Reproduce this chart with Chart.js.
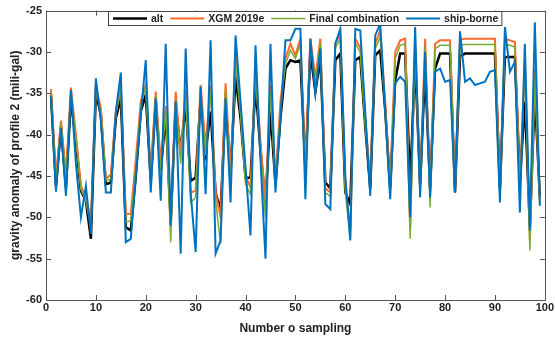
<!DOCTYPE html>
<html>
<head>
<meta charset="utf-8">
<script src="https://cdn.jsdelivr.net/npm/chart.js@4"></script>
<style>
  html, body { margin: 0; padding: 0; background: #fff; }
  #wrap { width: 555px; height: 343px; }
</style>
</head>
<body>
<div id="wrap"><canvas id="chart"></canvas></div>
<script>
// Sample numbers (x)
const sampleNo = [1,2,3,4,5,6,7,8,9,10,11,12,13,14,15,16,17,18,19,20,
  21,22,23,24,25,26,27,28,29,30,31,32,33,34,35,36,37,38,39,40,
  41,42,43,44,45,46,47,48,49,50,51,52,53,54,55,56,57,58,59,60,
  61,62,63,64,65,66,67,68,69,70,71,72,73,74,75,76,77,78,79,80,
  81,82,83,84,85,86,87,88,89,90,91,92,93,94,95,96,97,98,99];

// Series values (mGal)
const alt = [-35.2,-46.2,-39.0,-46.4,-35.6,-41.0,-46.8,-48.0,-52.6,-35.0,
  -37.6,-46.0,-45.8,-38.0,-35.6,-51.2,-51.6,-45.0,-37.2,-35.2,
  -45.5,-36.0,-44.5,-37.5,-50.5,-36.4,-42.0,-36.5,-45.6,-45.2,
  -35.6,-42.0,-37.2,-47.0,-49.2,-36.2,-44.5,-33.0,-38.0,-45.2,
  -45.2,-34.0,-42.0,-48.4,-37.2,-46.0,-38.0,-32.0,-31.0,-31.2,
  -31.0,-44.0,-30.0,-34.8,-30.8,-45.8,-46.5,-31.0,-30.2,-47.0,
  -48.4,-31.0,-30.6,-39.0,-46.5,-30.4,-29.8,-37.0,-46.4,-33.5,
  -30.2,-30.2,-46.0,-31.0,-46.0,-32.0,-46.5,-32.0,-30.2,-30.2,
  -30.2,-47.0,-30.5,-30.2,-30.2,-30.2,-30.2,-30.2,-30.2,-30.2,
  -46.5,-30.6,-30.6,-30.6,-45.5,-36.0,-51.2,-35.0,-47.5];

const xgm = [-34.5,-45.2,-38.3,-44.8,-34.3,-40.0,-46.2,-47.6,-50.4,-34.2,
  -36.8,-45.4,-44.8,-37.2,-34.0,-49.6,-49.6,-43.0,-36.0,-34.0,
  -44.5,-34.8,-43.5,-36.5,-51.0,-34.8,-42.5,-34.6,-47.0,-46.8,
  -34.0,-41.5,-34.0,-47.0,-50.0,-33.8,-44.8,-30.4,-37.0,-45.0,
  -46.4,-32.0,-41.0,-48.0,-34.0,-45.6,-36.0,-30.8,-29.0,-30.4,
  -28.4,-44.0,-28.4,-33.2,-28.4,-46.5,-47.0,-29.0,-27.8,-46.0,
  -51.6,-28.4,-29.5,-38.0,-45.5,-29.0,-27.4,-36.0,-46.4,-30.0,
  -28.6,-28.4,-51.5,-28.5,-46.5,-28.4,-47.0,-29.0,-28.6,-28.6,
  -28.6,-46.5,-28.5,-28.4,-28.4,-28.4,-28.4,-28.4,-28.4,-28.4,
  -46.5,-28.4,-28.6,-28.8,-46.0,-31.0,-52.8,-32.0,-48.0];

const finalComb = [-34.8,-45.8,-38.6,-45.6,-34.8,-40.5,-46.6,-48.0,-51.2,-34.6,
  -37.2,-45.6,-45.4,-37.6,-34.6,-50.6,-50.4,-44.0,-36.4,-34.2,
  -46.0,-35.2,-44.5,-37.0,-53.0,-35.6,-43.5,-35.2,-48.2,-47.6,
  -34.6,-42.5,-34.6,-48.0,-53.2,-34.6,-46.4,-31.2,-37.5,-46.0,
  -47.2,-32.8,-42.0,-50.0,-34.8,-46.4,-37.0,-31.5,-29.8,-30.8,
  -29.0,-46.5,-29.0,-33.8,-29.0,-47.0,-47.5,-29.5,-28.4,-47.0,
  -52.6,-29.0,-30.0,-39.0,-46.0,-29.6,-28.2,-37.0,-47.0,-30.8,
  -29.2,-29.0,-52.6,-29.5,-47.0,-29.2,-48.8,-29.6,-29.2,-29.2,
  -29.2,-46.8,-29.2,-29.1,-29.1,-29.1,-29.1,-29.1,-29.1,-29.1,
  -47.5,-29.1,-29.2,-29.4,-47.5,-31.5,-54.0,-33.0,-48.6];

const shipBorne = [-35.4,-46.9,-39.2,-47.4,-34.6,-43.5,-50.0,-46.2,-52.0,-33.2,
  -38.4,-47.0,-47.0,-37.2,-32.5,-53.0,-52.6,-45.0,-37.6,-31.0,
  -47.0,-35.6,-48.0,-29.0,-51.0,-36.0,-54.4,-29.6,-47.0,-54.2,
  -34.2,-47.2,-28.6,-54.4,-52.8,-35.6,-48.2,-28.0,-36.0,-44.0,
  -52.2,-29.2,-43.0,-55.0,-29.0,-47.0,-38.0,-28.6,-28.6,-27.2,
  -27.2,-47.8,-28.4,-35.0,-29.6,-48.4,-49.0,-29.0,-27.2,-45.0,
  -52.8,-27.2,-27.4,-37.2,-47.4,-28.0,-26.6,-37.0,-47.8,-33.8,
  -33.0,-33.6,-50.0,-27.0,-47.6,-30.0,-47.6,-32.4,-32.0,-33.6,
  -33.4,-47.0,-27.5,-33.6,-33.2,-34.0,-33.8,-33.6,-32.4,-32.2,
  -48.2,-27.0,-32.4,-31.2,-49.4,-29.0,-51.6,-26.4,-48.6];

// Axis ticks
const xTicks = [0,10,20,30,40,50,60,70,80,90,100];
const yTicks = [-60,-55,-50,-45,-40,-35,-30,-25];

const toPoints = vals => vals.map((v, i) => ({ x: sampleNo[i], y: v }));

const FONT = 'Arial, "Liberation Sans", sans-serif';

// Box + inward ticks like MATLAB
const boxPlugin = {
  id: 'boxTicks',
  afterDraw(chart) {
    const { ctx, chartArea: a, scales } = chart;
    ctx.save();
    ctx.strokeStyle = '#555';
    ctx.lineWidth = 1;
    ctx.strokeRect(Math.round(a.left) + 0.5, Math.round(a.top) + 0.5,
      Math.round(a.right - a.left), Math.round(a.bottom - a.top));
    ctx.beginPath();
    xTicks.forEach(t => {
      const px = Math.round(scales.x.getPixelForValue(t)) + 0.5;
      ctx.moveTo(px, a.bottom); ctx.lineTo(px, a.bottom - 5);
      ctx.moveTo(px, a.top);    ctx.lineTo(px, a.top + 5);
    });
    yTicks.forEach(t => {
      const py = Math.round(scales.y.getPixelForValue(t)) + 0.5;
      ctx.moveTo(a.left, py);  ctx.lineTo(a.left + 5, py);
      ctx.moveTo(a.right, py); ctx.lineTo(a.right - 5, py);
    });
    ctx.stroke();
    ctx.restore();
  }
};

// Legend box inside the plot, drawn by hand
const legendPlugin = {
  id: 'boxLegend',
  afterDraw(chart) {
    const { ctx } = chart;
    const items = chart.data.datasets;
    const left = 108, top = 11, h = 14, lineLen = 34, gap = 7;
    ctx.save();
    ctx.font = 'bold 10.5px ' + FONT;
    let x = left + 5;
    const pos = [];
    items.forEach(ds => {
      pos.push(x);
      x += lineLen + 4 + ctx.measureText(ds.label).width + gap;
    });
    const right = x - gap + 3;
    ctx.fillStyle = '#fff';
    ctx.fillRect(left, top, right - left, h);
    ctx.strokeStyle = '#444';
    ctx.lineWidth = 1;
    ctx.strokeRect(left + 0.5, top + 0.5, right - left, h);
    const cy = top + h / 2 + 0.5;
    items.forEach((ds, i) => {
      ctx.strokeStyle = ds.borderColor;
      ctx.lineWidth = ds.borderWidth;
      ctx.beginPath();
      ctx.moveTo(pos[i], cy); ctx.lineTo(pos[i] + lineLen, cy);
      ctx.stroke();
      ctx.fillStyle = '#222';
      ctx.textBaseline = 'middle';
      ctx.fillText(ds.label, pos[i] + lineLen + 4, cy + 0.5);
    });
    ctx.restore();
  }
};

const ctx = document.getElementById('chart').getContext('2d');
new Chart(ctx, {
  type: 'line',
  data: {
    datasets: [
      { label: 'alt',               data: toPoints(alt),       borderColor: '#000000', borderWidth: 2.5, order: 4 },
      { label: 'XGM 2019e',         data: toPoints(xgm),       borderColor: '#FF6A2C', borderWidth: 2,   order: 3 },
      { label: 'Final combination', data: toPoints(finalComb), borderColor: '#77AC30', borderWidth: 1.5, order: 2 },
      { label: 'ship-borne',        data: toPoints(shipBorne), borderColor: '#0072BD', borderWidth: 2,   order: 1 }
    ]
  },
  options: {
    responsive: true,
    maintainAspectRatio: false,
    animation: false,
    elements: { point: { radius: 0 }, line: { tension: 0, borderJoinStyle: 'miter' } },
    layout: { padding: { top: 9, right: 8, left: 0, bottom: 0 } },
    plugins: { legend: { display: false }, tooltip: { enabled: false } },
    scales: {
      x: {
        type: 'linear', min: 0, max: 100,
        afterBuildTicks: s => { s.ticks = xTicks.map(v => ({ value: v })); },
        afterFit: s => { s.height = 43; },
        grid: { display: false, drawTicks: false },
        border: { display: false },
        ticks: { color: '#222', font: { family: FONT, size: 11, weight: 'bold' }, padding: 1, maxRotation: 0 },
        title: { display: true, text: 'Number o sampling', color: '#222', font: { family: FONT, size: 12, weight: 'bold' }, padding: { top: 2, bottom: 7 } }
      },
      y: {
        type: 'linear', min: -60, max: -25,
        afterBuildTicks: s => { s.ticks = yTicks.map(v => ({ value: v })); },
        afterFit: s => { s.width = 46; },
        grid: { display: false, drawTicks: false },
        border: { display: false },
        ticks: { color: '#222', font: { family: FONT, size: 11, weight: 'bold' }, padding: 4 },
        title: { display: true, text: 'gravity anomaly of profile 2 (mili-gal)', color: '#222', font: { family: FONT, size: 12, weight: 'bold' }, padding: { top: 8, bottom: 0 } }
      }
    }
  },
  plugins: [boxPlugin, legendPlugin]
});
</script>
</body>
</html>
